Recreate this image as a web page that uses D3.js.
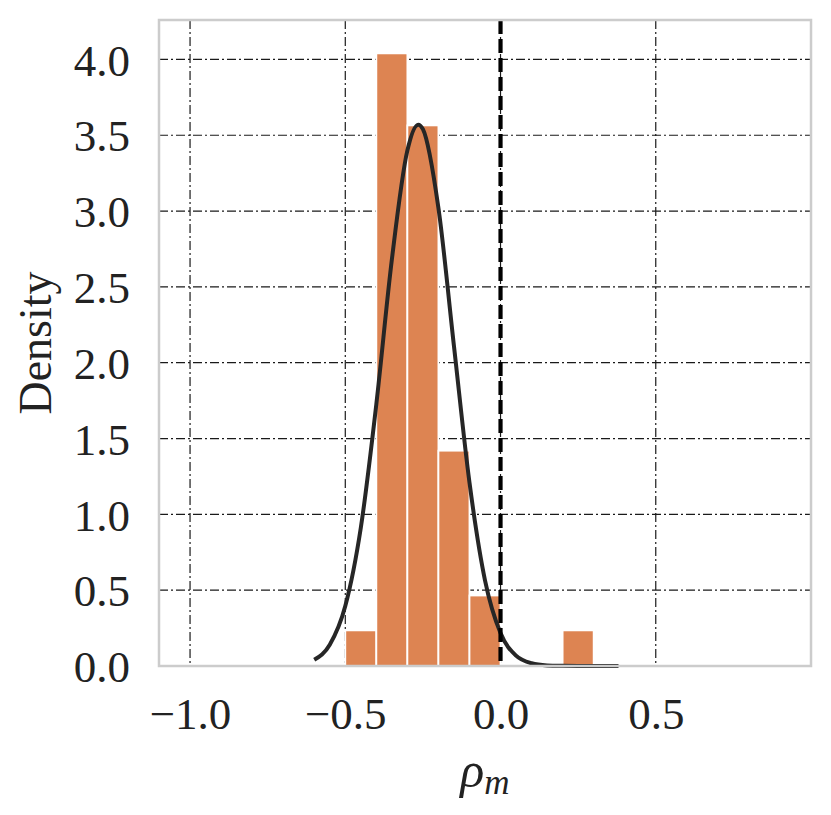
<!DOCTYPE html>
<html>
<head>
<meta charset="utf-8">
<style>
body { margin: 0; background: #fff; }
.tick text { font-family: "Liberation Serif", serif; font-size: 45px; fill: #222; }
.grid line { stroke: #1a1a1a; stroke-width: 1.2px; stroke-dasharray: 9,3,2,3; }
.lbl { font-family: "Liberation Serif", serif; font-size: 46px; fill: #222; }
</style>
</head>
<body>
<div id="chart"></div>
<script src="https://cdn.jsdelivr.net/npm/d3@7"></script>
<script>
// histogram bins (left edge, right edge, density)
var binLeft  = [-0.5, -0.4, -0.3, -0.2, -0.1, 0.2];
var binRight = [-0.4, -0.3, -0.2, -0.1,  0.0, 0.3];
var binDens  = [0.235, 4.04, 3.565, 1.42, 0.465, 0.235];

// fitted density curve
var curveX = [-0.6, -0.55, -0.5, -0.45, -0.4, -0.35, -0.3, -0.265, -0.25, -0.2, -0.15, -0.1, -0.05, 0.0, 0.05, 0.1, 0.15, 0.2, 0.25, 0.38];
var curveY = [0.041, 0.14, 0.395, 0.912, 1.727, 2.68, 3.40, 3.57, 3.54, 3.02, 2.11, 1.21, 0.565, 0.217, 0.068, 0.018, 0.004, 0.001, 0, 0];

var xTicks = [-1.0, -0.5, 0.0, 0.5];
var yTicks = [0, 0.5, 1.0, 1.5, 2.0, 2.5, 3.0, 3.5, 4.0];
var refLine = 0.0;

var width = 831, height = 815;
var mLeft = 159, mRight = 811, mTop = 20, mBottom = 666;

var svg = d3.select("#chart").append("svg")
    .attr("width", width)
    .attr("height", height);

var x = d3.scaleLinear().domain([-1.1, 1.0]).range([mLeft, mRight]);
var y = d3.scaleLinear().domain([0, 4.26]).range([mBottom, mTop]);

var fmt = function(d){ return d3.format(".1f")(d).replace("-", "\u2212"); };

// grid
svg.append("g").attr("class", "grid")
  .selectAll("line").data(xTicks).enter().append("line")
    .attr("x1", function(d){ return x(d); }).attr("x2", function(d){ return x(d); })
    .attr("y1", mTop).attr("y2", mBottom);
svg.append("g").attr("class", "grid")
  .selectAll("line").data(yTicks.slice(1)).enter().append("line")
    .attr("x1", mLeft).attr("x2", mRight)
    .attr("y1", function(d){ return y(d); }).attr("y2", function(d){ return y(d); });

// bars
svg.append("g").selectAll("rect").data(binDens).enter().append("rect")
    .attr("x", function(d,i){ return x(binLeft[i]); })
    .attr("width", function(d,i){ return x(binRight[i]) - x(binLeft[i]); })
    .attr("y", function(d){ return y(d); })
    .attr("height", function(d){ return y(0) - y(d); })
    .attr("fill", "#DD8452")
    .attr("stroke", "#fff")
    .attr("stroke-width", 1.8);

// curve
var line = d3.line()
    .x(function(d){ return x(d[0]); })
    .y(function(d){ return y(d[1]); })
    .curve(d3.curveMonotoneX);
svg.append("path")
    .datum(d3.zip(curveX, curveY))
    .attr("d", line)
    .attr("fill", "none")
    .attr("stroke", "#262626")
    .attr("stroke-width", 4);

// dashed reference line at 0
svg.append("line")
    .attr("x1", x(refLine)).attr("x2", x(refLine))
    .attr("y1", mTop).attr("y2", mBottom)
    .attr("stroke", "#000")
    .attr("stroke-width", 4.2)
    .attr("stroke-dasharray", "14,5");

// axes (no tick marks)
var xAxis = svg.append("g")
    .attr("transform", "translate(0," + mBottom + ")")
    .call(d3.axisBottom(x).tickValues(xTicks).tickFormat(fmt).tickSize(0).tickPadding(63));
var yAxis = svg.append("g")
    .attr("transform", "translate(" + mLeft + ",0)")
    .call(d3.axisLeft(y).tickValues(yTicks).tickFormat(fmt).tickSize(0).tickPadding(29));
xAxis.select(".domain").remove();
yAxis.select(".domain").remove();
yAxis.selectAll(".tick text").attr("dy", "0.35em");
xAxis.selectAll(".tick text").attr("dy", "0");

// spines
svg.append("rect")
    .attr("x", mLeft).attr("y", mTop)
    .attr("width", mRight - mLeft).attr("height", mBottom - mTop)
    .attr("fill", "none")
    .attr("stroke", "#cccccc")
    .attr("stroke-width", 2.5);

// labels
var xl = svg.append("text").attr("class", "lbl")
    .attr("x", 485).attr("y", 787)
    .attr("text-anchor", "middle");
xl.append("tspan").attr("font-style", "italic").attr("font-size", "50px").text("\u03c1");
xl.append("tspan").attr("font-style", "italic").attr("font-size", "35px").attr("dy", "7").text("m");

svg.append("text").attr("class", "lbl")
    .attr("transform", "translate(51," + ((mTop + mBottom) / 2) + ") rotate(-90)")
    .attr("text-anchor", "middle")
    .text("Density");
</script>
</body>
</html>
